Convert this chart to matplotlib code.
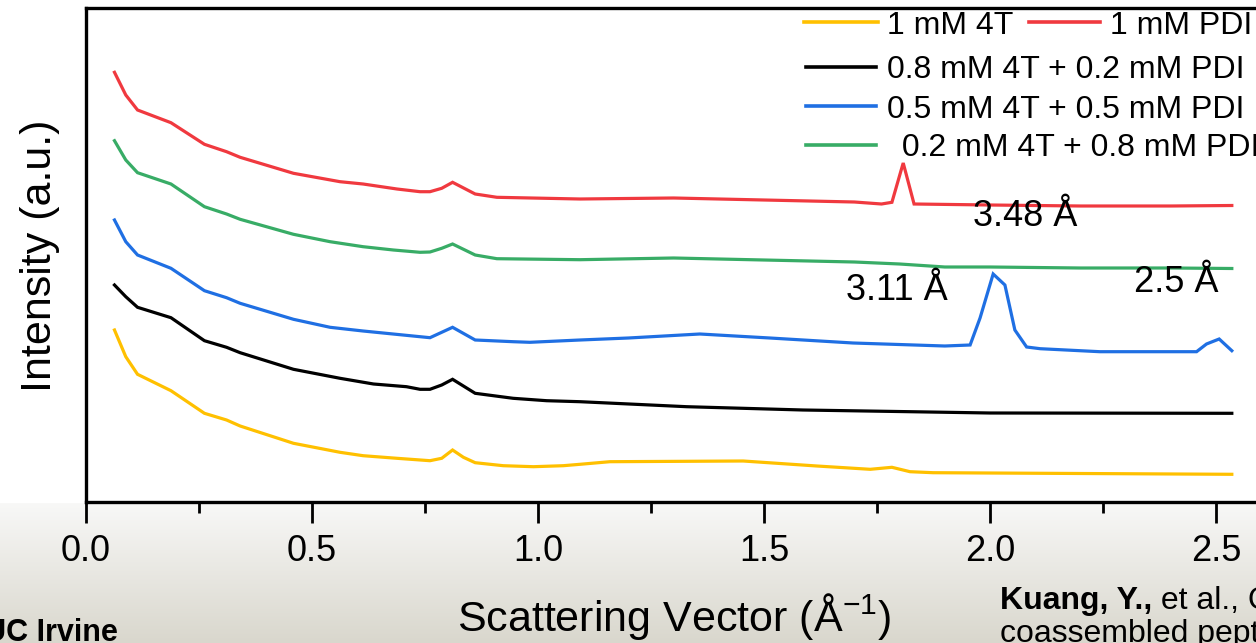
import numpy as np
import matplotlib.pyplot as plt
from matplotlib.lines import Line2D

plt.rcParams['font.family'] = ['Liberation Sans', 'DejaVu Sans']
plt.rcParams['mathtext.fontset'] = 'custom'
plt.rcParams['mathtext.rm'] = 'Liberation Sans'
plt.rcParams['mathtext.it'] = 'Liberation Sans:italic'

# scattering vector (1/A) and intensity (a.u.)
q_4t = [0.063, 0.088, 0.114, 0.188, 0.262, 0.311, 0.341, 0.459, 0.562, 0.613, 0.688, 0.761, 0.787,
        0.811, 0.835, 0.861, 0.923, 0.990, 1.056, 1.093, 1.159, 1.454, 1.617, 1.735, 1.783, 1.823,
        1.874, 2.20, 2.535]
i_4t = [172, 145.3, 127.7, 111.3, 88.7, 82, 76, 58.7, 49.7, 46.3, 43.7, 41.3, 43.7,
        52, 44.7, 39.3, 36.3, 35.3, 36.3, 37.7, 40.3, 41, 36, 32.7, 34.7, 30.3,
        29.3, 28.5, 27.7]

q_82 = [0.063, 0.088, 0.114, 0.188, 0.262, 0.311, 0.341, 0.459, 0.562, 0.636, 0.709, 0.739, 0.761,
        0.787, 0.811, 0.861, 0.945, 1.019, 1.093, 1.329, 1.586, 1.823, 2.00, 2.535]
i_82 = [217, 205.3, 194.7, 184.3, 161.3, 154.7, 149.3, 132.7, 123.7, 118, 115.3, 112.7, 112.7,
        117, 122.7, 108.7, 103.7, 101.3, 100.3, 95.3, 92, 90.3, 89, 88.7]

q_55 = [0.063, 0.088, 0.114, 0.188, 0.262, 0.311, 0.341, 0.459, 0.540, 0.613, 0.761, 0.811, 0.861,
        0.945, 0.982, 1.093, 1.20, 1.358, 1.513, 1.697, 1.90, 1.956, 1.978, 2.007, 2.033, 2.055,
        2.081, 2.111, 2.243, 2.457, 2.479, 2.507, 2.535]
i_55 = [282, 260.3, 247, 233.7, 211.3, 204.3, 198.7, 182.7, 174.7, 171, 164.3, 174.7, 162,
        160.3, 159.7, 162, 164, 168, 164, 159, 156, 157, 184, 228, 217, 172,
        155, 153.3, 150.3, 150.3, 158, 163, 151.3]

q_28 = [0.063, 0.088, 0.114, 0.188, 0.262, 0.311, 0.341, 0.459, 0.540, 0.613, 0.680, 0.739, 0.761,
        0.787, 0.811, 0.861, 0.909, 1.093, 1.30, 1.50, 1.70, 1.80, 1.90, 2.00, 2.20, 2.40, 2.535]
i_28 = [361.3, 342, 329.3, 318, 295.3, 288, 282.7, 267.7, 260.3, 255.3, 252, 249.7, 250,
        253.7, 258, 247, 243.3, 242.3, 244, 242, 240, 238, 235, 235, 234, 234, 233.5]

q_pdi = [0.063, 0.088, 0.114, 0.188, 0.262, 0.311, 0.341, 0.459, 0.562, 0.613, 0.688, 0.739, 0.761,
         0.787, 0.811, 0.861, 0.909, 1.093, 1.30, 1.50, 1.70, 1.760, 1.783, 1.808, 1.832, 2.00,
         2.20, 2.40, 2.535]
i_pdi = [429.7, 407, 392, 379.3, 357.7, 350.3, 344.7, 328.7, 320.3, 318, 313, 310.3, 310.3,
         313.7, 319.7, 308, 304.7, 303, 304, 302, 300, 298, 299.7, 339, 298, 297,
         296, 296, 296.5]

labels = ['1 mM 4T', '0.8 mM 4T + 0.2 mM PDI', '0.5 mM 4T + 0.5 mM PDI',
          ' 0.2 mM 4T + 0.8 mM PDI', '1 mM PDI']
colors = ['#FFC000', '#000000', '#1F6FE3', '#38AC66', '#F0393F']
series = [(q_4t, i_4t), (q_82, i_82), (q_55, i_55), (q_28, i_28), (q_pdi, i_pdi)]

W, H = 1256, 643
fig = plt.figure(figsize=(W / 100, H / 100), dpi=100)

# slide background: white chart area, grey gradient below it
grad = np.ones((H, 1, 3))
top = np.array([248, 248, 247]) / 255
bot = np.array([217, 215, 205]) / 255
t = np.linspace(0, 1, H - 503)[:, None]
grad[503:, 0, :] = top + (bot - top) * t
bg = fig.add_axes([0, 0, 1, 1], zorder=0)
bg.imshow(grad, aspect='auto', extent=[0, 1, 0, 1])
bg.axis('off')

ax = fig.add_axes([86 / W, 141 / H, 1175.2 / W, 494 / H], zorder=1)
ax.patch.set_alpha(0)
for (q, inten), c in zip(series, colors):
    ax.plot(q, inten, color=c, lw=2.3, solid_joinstyle='miter')

ax.set_xlim(0, 2.6)
ax.set_ylim(0, 494)
ax.set_xticks(np.arange(0, 2.51, 0.5))
ax.set_xticks(np.arange(0.25, 2.6, 0.5), minor=True)
ax.set_yticks([])
ax.tick_params(axis='x', which='major', length=15, width=2, labelsize=26, pad=8)
ax.tick_params(axis='x', which='minor', length=8, width=2)
for s in ['left', 'top', 'bottom']:
    ax.spines[s].set_linewidth(2.4)
ax.spines['right'].set_visible(False)

ax.text(2.077, 285, '3.48 Å', fontsize=26, ha='center', va='center')
ax.text(1.794, 212, '3.11 Å', fontsize=26, ha='center', va='center')
ax.text(2.411, 219, '2.5 Å', fontsize=26, ha='center', va='center')

fig.text(40 / W, 1 - 256 / H, 'Intensity (a.u.)', rotation=90, fontsize=31,
         ha='center', va='center')
fig.text(674 / W, 1 - 616 / H, 'Scattering Vector (Å$^{-1}$)', fontsize=31,
         ha='center', va='center')

# legend, laid out as on the slide
leg = [(0, 804, 878, 887, 22), (4, 1029, 1100, 1110, 22), (1, 806, 876, 887, 67),
       (2, 806, 876, 887, 106), (3, 806, 876, 893, 145)]
for k, x0, x1, xt, y in leg:
    fig.add_artist(Line2D([x0 / W, x1 / W], [1 - y / H, 1 - y / H], color=colors[k],
                          lw=2.6, transform=fig.transFigure))
    fig.text(xt / W, 1 - (y + 11.5) / H, labels[k], fontsize=23, ha='left', va='baseline')

# slide footer
fig.text(118 / W, 1 - 633 / H, 'UC Irvine', fontsize=22, fontweight='bold',
         family=['Liberation Sans Narrow', 'Liberation Sans'], ha='right', va='center')
t1 = fig.text(1000 / W, 1 - 616 / H, 'Kuang, Y.,', fontsize=23, fontweight='bold',
              ha='left', va='bottom')
ax.annotate(' et al., C', xy=(1, 0), xycoords=t1, fontsize=23, ha='left', va='bottom',
            annotation_clip=False)
fig.text(1000 / W, 1 - 634 / H, 'coassembled peptide', fontsize=23, ha='left', va='center')

fig.savefig('out.png', dpi=100)
